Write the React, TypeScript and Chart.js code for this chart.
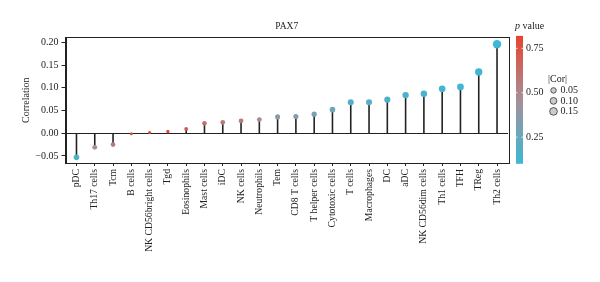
import React, { useEffect, useRef } from "react";
import { Chart, registerables } from "chart.js";

Chart.register(...registerables);

// Immune cell types ordered by their correlation with PAX7
const cellTypes = [
  "pDC", "Th17 cells", "Tcm", "B cells", "NK CD56bright cells", "Tgd",
  "Eosinophils", "Mast cells", "iDC", "NK cells", "Neutrophils", "Tem",
  "CD8 T cells", "T helper cells", "Cytotoxic cells", "T cells", "Macrophages",
  "DC", "aDC", "NK CD56dim cells", "Th1 cells", "TFH", "TReg", "Th2 cells",
];
const correlation = [
  -0.053, -0.031, -0.025, -0.001, 0.0015, 0.004,
  0.0095, 0.022, 0.024, 0.027, 0.030, 0.036,
  0.037, 0.042, 0.052, 0.068, 0.068,
  0.074, 0.084, 0.087, 0.098, 0.102, 0.135, 0.196,
];
const pValue = [
  0.16, 0.45, 0.56, 0.81, 0.80, 0.77,
  0.72, 0.61, 0.58, 0.56, 0.49, 0.36,
  0.34, 0.30, 0.26, 0.18, 0.18,
  0.16, 0.14, 0.13, 0.12, 0.12, 0.11, 0.10,
];
const yTicks = [-0.05, 0, 0.05, 0.1, 0.15, 0.2];
const pTicks = [0.25, 0.5, 0.75];
const pRange = [0.1, 0.82];
const corBreaks = [0.05, 0.1, 0.15];

const SERIF = "'Liberation Serif', 'Times New Roman', serif";
const INK = "#222222";

// colour ramp for p value: cyan (low) -> grey -> red (high)
const rampStops: [number, [number, number, number]][] = [
  [0.1, [61, 184, 212]],
  [0.46, [165, 144, 152]],
  [0.82, [232, 68, 45]],
];
function pColor(p: number): string {
  const v = Math.min(Math.max(p, rampStops[0][0]), rampStops[rampStops.length - 1][0]);
  for (let i = 0; i < rampStops.length - 1; i++) {
    const [a, ca] = rampStops[i];
    const [b, cb] = rampStops[i + 1];
    if (v <= b) {
      const t = (v - a) / (b - a);
      const c = ca.map((x, k) => Math.round(x + (cb[k] - x) * t));
      return `rgb(${c[0]},${c[1]},${c[2]})`;
    }
  }
  const c = rampStops[rampStops.length - 1][1];
  return `rgb(${c[0]},${c[1]},${c[2]})`;
}

// point radius grows with |Cor|
function corRadius(c: number): number {
  return 1.3 + 2.9 * Math.sqrt(Math.abs(c) / 0.196);
}

function fmt(v: number): string {
  const s = Math.abs(v).toFixed(2);
  return v < -1e-9 ? "\u2212" + s : s;
}

const lollipopPlugin = {
  id: "lollipop",
  beforeDatasetsDraw(chart: any) {
    const { ctx, scales } = chart;
    const xs = scales.x;
    const ys = scales.y;
    const y0 = ys.getPixelForValue(0);
    ctx.save();
    ctx.strokeStyle = INK;
    ctx.lineWidth = 1.6;
    correlation.forEach((v, i) => {
      const x = xs.getPixelForValue(i);
      ctx.beginPath();
      ctx.moveTo(x, y0);
      ctx.lineTo(x, ys.getPixelForValue(v));
      ctx.stroke();
    });
    ctx.restore();
  },
  afterDraw(chart: any) {
    const { ctx, chartArea } = chart;
    const { left, right, top, bottom } = chartArea;
    ctx.save();
    // panel frame
    ctx.strokeStyle = INK;
    ctx.lineWidth = 1;
    ctx.strokeRect(Math.round(left) + 0.5, Math.round(top) + 0.5, Math.round(right - left), Math.round(bottom - top));

    // colour bar for p value
    const cbLeft = right + 8;
    const cbW = 7;
    const cbTop = top - 1.5;
    const cbBottom = bottom + 0.8;
    const pToY = (p: number) => cbBottom - ((p - pRange[0]) / (pRange[1] - pRange[0])) * (cbBottom - cbTop);
    const grad = ctx.createLinearGradient(0, cbBottom, 0, cbTop);
    for (let k = 0; k <= 20; k++) {
      const t = k / 20;
      grad.addColorStop(t, pColor(pRange[0] + t * (pRange[1] - pRange[0])));
    }
    ctx.fillStyle = grad;
    ctx.fillRect(cbLeft, cbTop, cbW, cbBottom - cbTop);
    ctx.strokeStyle = "#ffffff";
    ctx.lineWidth = 0.8;
    ctx.font = `10px ${SERIF}`;
    ctx.fillStyle = INK;
    ctx.textAlign = "left";
    ctx.textBaseline = "middle";
    pTicks.forEach((p) => {
      const y = pToY(p);
      ctx.beginPath();
      ctx.moveTo(cbLeft, y);
      ctx.lineTo(cbLeft + 1.5, y);
      ctx.moveTo(cbLeft + cbW - 1.5, y);
      ctx.lineTo(cbLeft + cbW, y);
      ctx.stroke();
      ctx.fillText(p.toFixed(2), cbLeft + cbW + 3, y);
    });
    // colour bar title: italic p + "value"
    ctx.textBaseline = "alphabetic";
    ctx.font = `italic 10px ${SERIF}`;
    ctx.fillText("p", cbLeft - 1, top - 8.5);
    const pw = ctx.measureText("p").width;
    ctx.font = `10px ${SERIF}`;
    ctx.fillText(" value", cbLeft - 1 + pw, top - 8.5);

    // size legend for |Cor|
    const sx = cbLeft + 32;
    ctx.textBaseline = "middle";
    ctx.fillText("|Cor|", sx, top + 42);
    corBreaks.forEach((c, k) => {
      const y = top + 53 + k * 10.5;
      ctx.beginPath();
      ctx.arc(sx + 5.5, y, corRadius(c), 0, Math.PI * 2);
      ctx.fillStyle = "#cccccc";
      ctx.fill();
      ctx.strokeStyle = "#333333";
      ctx.lineWidth = 0.8;
      ctx.stroke();
      ctx.fillStyle = INK;
      ctx.fillText(c.toFixed(2), sx + 12.5, y);
    });
    ctx.restore();
  },
};

export default function App() {
  const canvasRef = useRef<HTMLCanvasElement | null>(null);

  useEffect(() => {
    const canvas = canvasRef.current;
    if (!canvas) return;
    const chart = new Chart(canvas, {
      type: "scatter",
      data: {
        datasets: [
          {
            data: cellTypes.map((_, i) => ({ x: i, y: correlation[i] })),
            pointBackgroundColor: (ctx: any) => pColor(pValue[ctx.dataIndex]),
            pointRadius: (ctx: any) => corRadius(correlation[ctx.dataIndex]),
            pointHoverRadius: (ctx: any) => corRadius(correlation[ctx.dataIndex]),
            pointBorderWidth: 0,
          },
        ],
      },
      options: {
        responsive: false,
        animation: false,
        events: [],
        layout: { padding: { top: 0, right: 92, bottom: 0, left: 0 } },
        plugins: {
          legend: { display: false },
          tooltip: { enabled: false },
          title: {
            display: true,
            text: "PAX7",
            fullSize: false,
            color: INK,
            font: { family: SERIF, size: 9.5, weight: "normal" },
            padding: { top: 21, bottom: 5 },
          },
        },
        scales: {
          x: {
            type: "linear",
            min: -0.6,
            max: cellTypes.length - 0.4,
            afterBuildTicks: (s: any) => {
              s.ticks = cellTypes.map((_, i) => ({ value: i }));
            },
            afterFit: (s: any) => {
              s.height = 119;
            },
            ticks: {
              autoSkip: false,
              minRotation: 90,
              maxRotation: 90,
              padding: 3,
              color: INK,
              font: { family: SERIF, size: 9.7 },
              callback: (v: any) => cellTypes[Math.round(v)] ?? "",
            },
            grid: { drawOnChartArea: false, drawTicks: true, tickLength: 3, color: INK, tickColor: INK },
            border: { display: true, color: INK, width: 1 },
          },
          y: {
            type: "linear",
            min: -0.0655,
            max: 0.211,
            afterBuildTicks: (s: any) => {
              s.ticks = yTicks.map((v) => ({ value: v }));
            },
            afterFit: (s: any) => {
              s.width = 65.5;
            },
            ticks: {
              padding: 3,
              color: INK,
              font: { family: SERIF, size: 10 },
              callback: (v: any) => fmt(Number(v)),
            },
            grid: {
              drawOnChartArea: true,
              drawTicks: true,
              tickLength: 4,
              tickColor: INK,
              color: (ctx: any) => (ctx.tick && Math.abs(ctx.tick.value) < 1e-9 ? INK : "rgba(0,0,0,0)"),
              lineWidth: 1,
            },
            border: { display: true, color: INK, width: 1 },
            title: {
              display: true,
              text: "Correlation",
              color: INK,
              font: { family: SERIF, size: 10 },
              padding: { top: 20, bottom: 0 },
            },
          },
        },
      },
      plugins: [lollipopPlugin],
    } as any);
    return () => chart.destroy();
  }, []);

  return (
    <div style={{ position: "absolute", left: 0, top: 0, width: 600, height: 282, background: "#ffffff" }}>
      <canvas ref={canvasRef} width={600} height={282} style={{ display: "block" }} />
    </div>
  );
}
